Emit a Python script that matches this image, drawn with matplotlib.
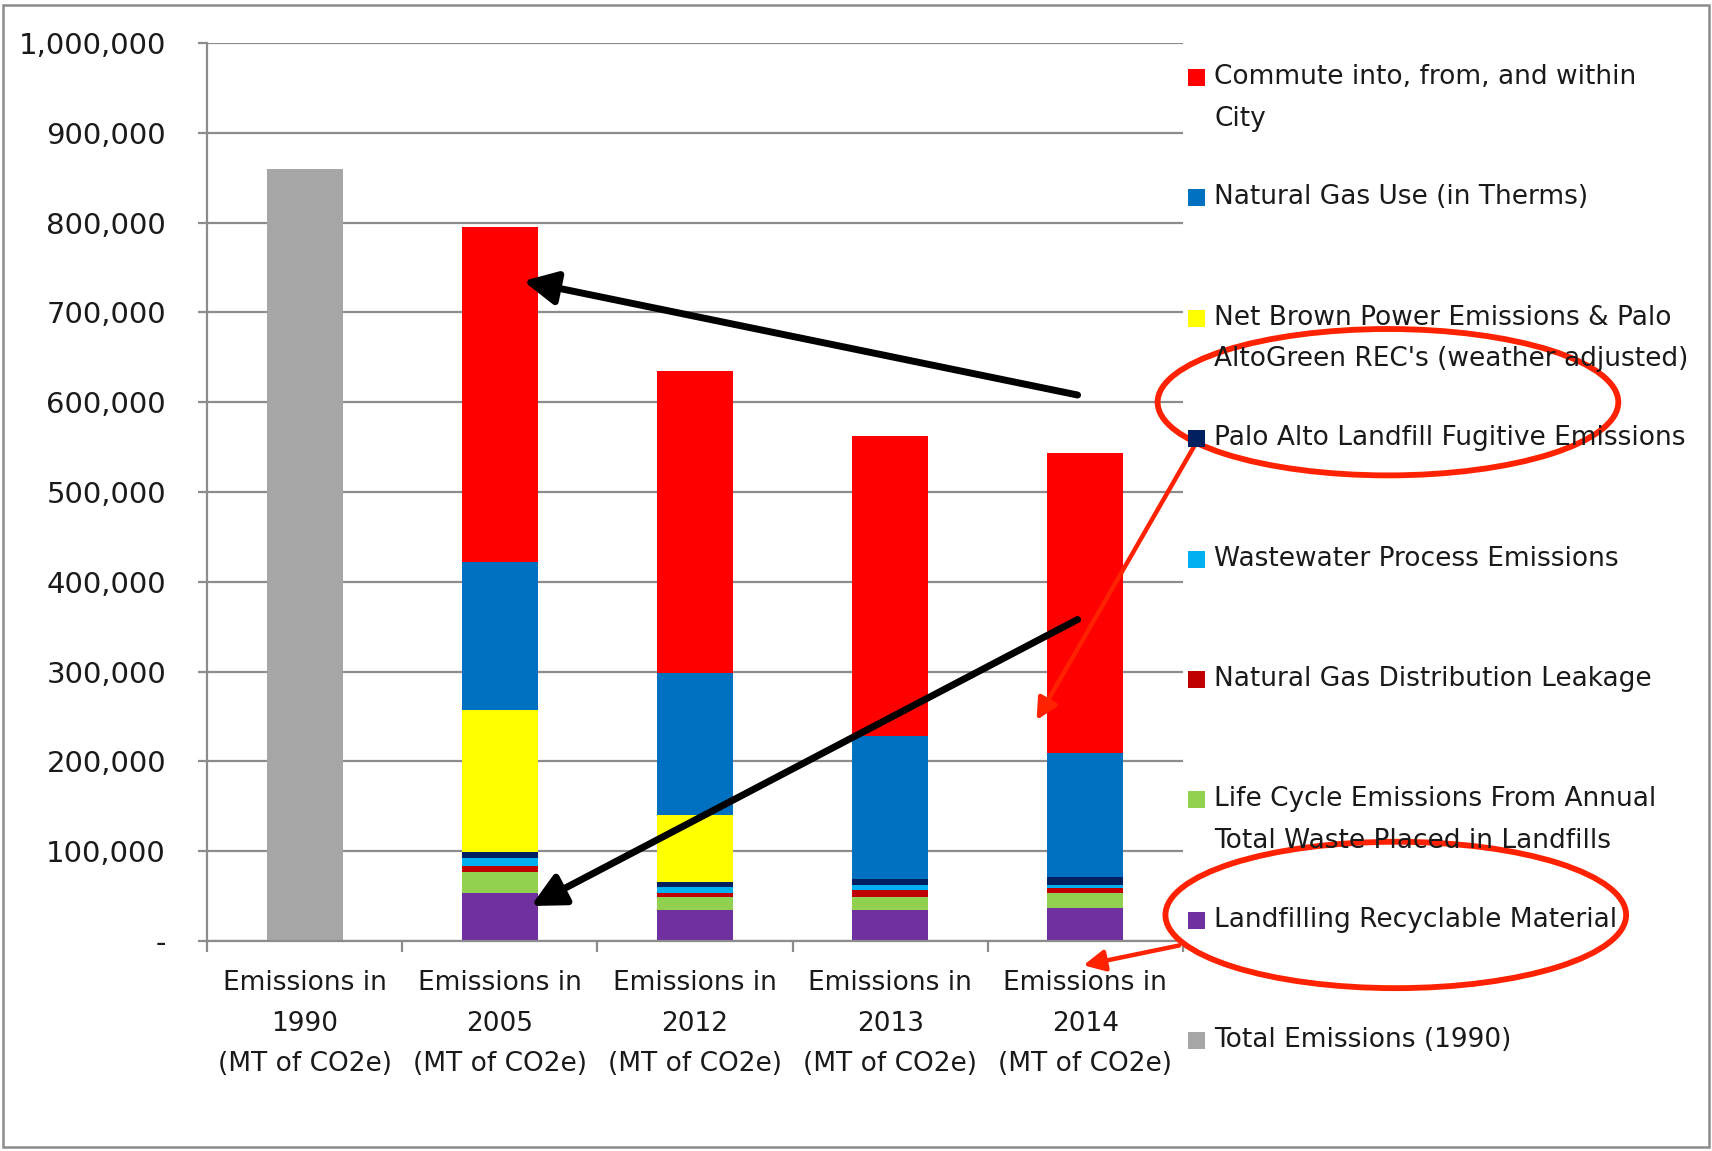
import numpy as np
import matplotlib
matplotlib.use("Agg")
import matplotlib.pyplot as plt
from matplotlib.patches import Rectangle, Ellipse

# emissions by source, MT of CO2e (stacked bottom -> top)
categories = ["Emissions in\n1990\n(MT of CO2e)", "Emissions in\n2005\n(MT of CO2e)",
              "Emissions in\n2012\n(MT of CO2e)", "Emissions in\n2013\n(MT of CO2e)",
              "Emissions in\n2014\n(MT of CO2e)"]
recyclable = [0, 53000, 34500, 34500, 37000]
life_cycle = [0, 24000, 15000, 15000, 16000]
gas_leakage = [0, 6000, 3700, 7000, 6400]
wastewater = [0, 9500, 6400, 6000, 2900]
landfill_fugitive = [0, 7000, 6200, 6500, 9300]
brown_power = [0, 158000, 74300, 0, 0]
gas_use = [0, 165000, 158000, 158800, 137300]
commute = [0, 373000, 337000, 334500, 335000]
total_1990 = [860000, 0, 0, 0, 0]

stack = [
    (recyclable, "#7030A0", "Landfilling Recyclable Material"),
    (life_cycle, "#92D050", "Life Cycle Emissions From Annual\nTotal Waste Placed in Landfills"),
    (gas_leakage, "#C00000", "Natural Gas Distribution Leakage"),
    (wastewater, "#00B0F0", "Wastewater Process Emissions"),
    (landfill_fugitive, "#002060", "Palo Alto Landfill Fugitive Emissions"),
    (brown_power, "#FFFF00", "Net Brown Power Emissions & Palo\nAltoGreen REC's (weather adjusted)"),
    (gas_use, "#0070C0", "Natural Gas Use (in Therms)"),
    (commute, "#FF0000", "Commute into, from, and within\nCity"),
]
legend_order = list(reversed(stack)) + [(total_1990, "#A6A6A6", "Total Emissions (1990)")]

W, H = 1712, 1151
FS = 19
TXT = "#1a1a1a"
GRID = "#8c8c8c"
RED = "#FF2200"

fig = plt.figure(figsize=(W / 100, H / 100), dpi=100)
ax = fig.add_axes([207 / W, 1 - 941 / H, (1183 - 207) / W, (941 - 43) / H])

x = np.arange(len(categories))
bw = 0.39
bottom = np.zeros(len(categories))
for vals, col, lab in stack:
    ax.bar(x, vals, bw, bottom=bottom, color=col, linewidth=0, zorder=2)
    bottom += np.array(vals)
ax.bar(x, total_1990, bw, color="#A6A6A6", linewidth=0, zorder=2)

ax.set_xlim(-0.5, 4.5)
ax.set_ylim(0, 1000000)
yt = np.arange(0, 1000001, 100000)
ax.set_yticks(yt)
ax.set_yticklabels(["-" if v == 0 else f"{v:,}" for v in yt], fontsize=21, color=TXT)
ax.yaxis.grid(True, color=GRID, lw=1.6, zorder=0)
ax.set_axisbelow(True)
for s in ["top", "right"]:
    ax.spines[s].set_visible(False)
for s in ["left", "bottom"]:
    ax.spines[s].set_color(GRID)
    ax.spines[s].set_linewidth(1.6)
ax.tick_params(axis="y", length=6.5, width=1.6, color=GRID, pad=23)

ax.set_xticks(x)
ax.set_xticklabels(categories, fontsize=FS, color=TXT, linespacing=1.72)
ax.set_xticks(np.arange(-0.5, 4.6, 1), minor=True)
ax.tick_params(axis="x", which="major", length=0, pad=21)
ax.tick_params(axis="x", which="minor", length=8, width=1.6, color=GRID)

# legend drawn by hand down the right side
lx_box, lx_txt = 1188, 1214
for i, (vals, col, lab) in enumerate(legend_order):
    yc = 77 + i * 120.4
    fig.patches.append(Rectangle((lx_box / W, 1 - (yc + 9) / H), 17 / W, 17 / H,
                                 transform=fig.transFigure, color=col, lw=0))
    for j, line in enumerate(lab.split("\n")):
        fig.text(lx_txt / W, 1 - (yc + j * 41.5) / H, line, fontsize=FS,
                 color=TXT, va="center", ha="left")

# call-out arrows and circles
black = dict(arrowstyle="-|>", color="black", lw=5, mutation_scale=50,
             shrinkA=0, shrinkB=0)
ax.annotate("", xy=(1.12, 735000), xytext=(3.96, 608000), arrowprops=black,
            annotation_clip=False, zorder=5)
ax.annotate("", xy=(1.16, 39000), xytext=(3.96, 358000), arrowprops=black,
            annotation_clip=False, zorder=5)
red = dict(arrowstyle="-|>", color=RED, lw=3.2, mutation_scale=32,
           shrinkA=0, shrinkB=0)
ax.annotate("", xy=(3.75, 246000), xytext=(4.56, 552000), arrowprops=red,
            annotation_clip=False, zorder=5)
ax.annotate("", xy=(3.99, -27000), xytext=(4.48, -5000), arrowprops=red,
            annotation_clip=False, zorder=5)
for cx, cy in [(5.55, 600000), (5.59, 29000)]:
    ax.add_patch(Ellipse((cx, cy), 2.36, 163000, fill=False, edgecolor=RED,
                         lw=4.2, clip_on=False, zorder=6))

# outer frame
fig.patches.append(Rectangle((3 / W, 4 / H), (W - 6) / W, (H - 9) / H,
                             transform=fig.transFigure, fill=False,
                             edgecolor="#8c8c8c", lw=1.8))

fig.savefig("out.png", dpi=100)
